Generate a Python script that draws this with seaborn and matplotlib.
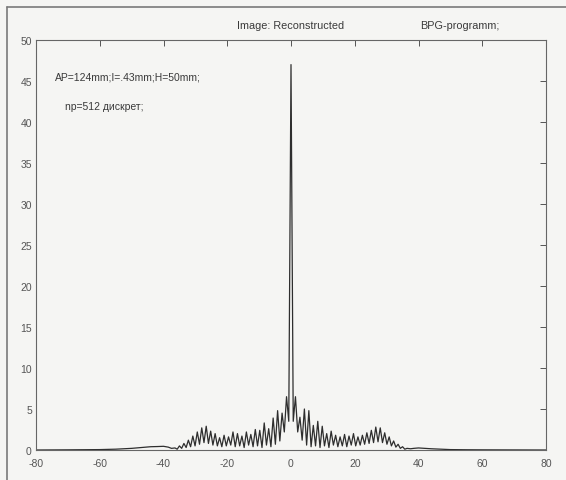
import numpy as np
import pandas as pd
import matplotlib
matplotlib.use("Agg")
import matplotlib.pyplot as plt
import seaborn as sns
from matplotlib.lines import Line2D

# ---- data ----
x_vals = [-80, -70, -60, -55, -50, -47, -44, -42, -40, -38.5, -37.5,
          -36.4, -35.7, -35.0, -34.3, -33.6, -32.9, -32.2, -31.5, -30.8, -30.1,
          -29.4, -28.7, -28.0, -27.3, -26.6, -25.9, -25.2, -24.5, -23.8, -23.1,
          -22.4, -21.7, -21.0, -20.3, -19.6, -18.9, -18.2, -17.5, -16.8, -16.1,
          -15.4, -14.7, -14.0, -13.3, -12.6, -11.9, -11.2, -10.5, -9.8, -9.1,
          -8.4, -7.7, -7.0, -6.3, -5.6, -4.9, -4.2, -3.5, -2.8, -2.1,
          -1.4, -0.7, 0.0, 0.7, 1.4, 2.1, 2.8, 3.5, 4.2, 4.9,
          5.6, 6.3, 7.0, 7.7, 8.4, 9.1, 9.8, 10.5, 11.2, 11.9,
          12.6, 13.3, 14.0, 14.7, 15.4, 16.1, 16.8, 17.5, 18.2, 18.9,
          19.6, 20.3, 21.0, 21.7, 22.4, 23.1, 23.8, 24.5, 25.2, 25.9,
          26.6, 27.3, 28.0, 28.7, 29.4, 30.1, 30.8, 31.5, 32.2, 32.9,
          33.6, 34.3, 35.0, 35.7, 36.4,
          37.5, 38.5, 40, 42, 44, 47, 50, 55, 60, 70, 80]
y_vals = [0.0, 0.02, 0.05, 0.1, 0.2, 0.3, 0.4, 0.42, 0.45, 0.35, 0.2,
          0.25, 0.1, 0.5, 0.2, 0.8, 0.3, 1.2, 0.4, 1.7, 0.5,
          2.2, 0.7, 2.7, 0.9, 2.9, 0.8, 2.3, 0.6, 2.0, 0.5,
          1.5, 0.4, 1.8, 0.5, 1.6, 0.6, 2.2, 0.4, 2.0, 0.5,
          1.7, 0.3, 2.2, 0.6, 1.9, 0.4, 2.5, 0.5, 2.4, 0.3,
          3.3, 0.6, 2.6, 0.4, 3.9, 0.7, 4.8, 1.1, 4.5, 2.2,
          6.5, 3.5, 47.0, 3.5, 6.5, 2.2, 4.0, 1.2, 5.0, 0.6,
          4.8, 0.4, 3.0, 0.5, 3.5, 0.3, 2.9, 0.5, 2.0, 0.3,
          2.3, 0.6, 1.8, 0.4, 1.6, 0.5, 1.9, 0.4, 1.7, 0.6,
          2.0, 0.5, 1.6, 0.6, 1.8, 0.7, 2.1, 0.8, 2.4, 0.9,
          2.8, 1.0, 2.7, 0.9, 2.1, 0.7, 1.6, 0.5, 1.1, 0.35,
          0.7, 0.2, 0.4, 0.1, 0.2,
          0.15, 0.2, 0.25, 0.2, 0.15, 0.1, 0.05, 0.03, 0.02, 0.01, 0.0]

x_ticks = [-80, -60, -40, -20, 0, 20, 40, 60, 80]
y_ticks = [0, 5, 10, 15, 20, 25, 30, 35, 40, 45, 50]

title_text = "Image: Reconstructed"
side_title = "BPG-programm;"
note1 = "AP=124mm;I=.43mm;H=50mm;"
note2 = "np=512 дискрет;"

df = pd.DataFrame({"x": x_vals, "y": y_vals})

sns.set_style("white")
plt.rcParams["font.family"] = ["Liberation Sans", "DejaVu Sans"]

bg = "#f5f5f3"
txt = "#3a3a3a"
fig = plt.figure(figsize=(5.66, 4.81), dpi=100, facecolor=bg)
ax = fig.add_axes([36 / 566, 30 / 481, (546 - 36) / 566, (451 - 41) / 481])
ax.set_facecolor(bg)

sns.lineplot(data=df, x="x", y="y", ax=ax, color="#2e2e2e", linewidth=0.9,
             sort=False, estimator=None)

ax.set_xlim(-80, 80)
ax.set_ylim(0, 50)
ax.set_xticks(x_ticks)
ax.set_yticks(y_ticks)
ax.set_xticklabels([str(t) for t in x_ticks])
ax.set_yticklabels([str(t) for t in y_ticks])
ax.set_xlabel("")
ax.set_ylabel("")
ax.tick_params(direction="in", top=True, right=True, length=4, width=0.7,
               color="#555555", labelsize=7.5, labelcolor="#555555")
ax.tick_params(axis="x", pad=6)
ax.tick_params(axis="y", pad=3)
for s in ax.spines.values():
    s.set_color("#666666")
    s.set_linewidth(0.8)

ax.text(0, 51.2, title_text, ha="center", va="bottom", fontsize=7.8, color=txt)
ax.text(53, 51.2, side_title, ha="center", va="bottom", fontsize=7.8, color=txt)
ax.text(-74, 45.5, note1, ha="left", va="center", fontsize=7.5, color=txt)
ax.text(-71, 42, note2, ha="left", va="center", fontsize=7.5, color=txt)

# scanned frame lines (top and left edge)
fig.add_artist(Line2D([7 / 566, 1.0], [1 - 8 / 481, 1 - 8 / 481],
                      transform=fig.transFigure, color="#7a7a7a", linewidth=1.2))
fig.add_artist(Line2D([7 / 566, 7 / 566], [0.0, 1 - 8 / 481],
                      transform=fig.transFigure, color="#7a7a7a", linewidth=1.2))

fig.savefig("out.png", dpi=100, facecolor=bg)
